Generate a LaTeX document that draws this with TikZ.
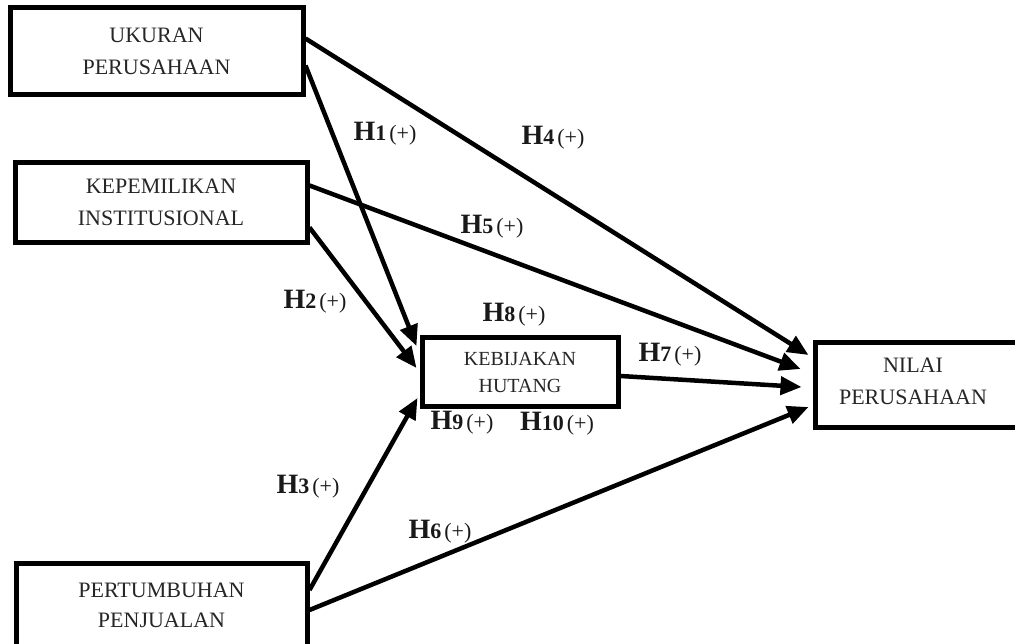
\documentclass[tikz,border=0pt]{standalone}
\usepackage{fontspec}
\setmainfont{Liberation Serif}
\usetikzlibrary{arrows.meta,calc}
\tikzset{
  box/.style={draw=black, line width=5pt, rectangle, inner sep=0pt, align=center,
    font=\fontsize{22}{32}\selectfont, text=black!85},
  link/.style={line width=4.5pt, -{Triangle[length=21pt,width=18pt]}},
  hyp/.style={inner sep=0pt, text=black!90},
}
\newcommand{\hlab}[1]{{\fontsize{28}{30}\selectfont\bfseries H}{\fontsize{22}{24}\selectfont\bfseries #1}\hspace{3pt}{\fontsize{22}{24}\selectfont(+)}}
\begin{document}
\begin{tikzpicture}[x=1pt,y=-1pt]
\useasboundingbox (0,0) rectangle (1015,644);
\clip (0,0) rectangle (1015,644);
\fill[white] (0,0) rectangle (1015,644);
% boxes
\node[box, minimum width=293pt, minimum height=87pt] (uk) at (156.5,51.5) {UKURAN\\PERUSAHAAN};
\node[box, minimum width=292pt, minimum height=80pt] (kp) at (161,202.5) {KEPEMILIKAN\\INSTITUSIONAL};
\node[box, minimum width=291pt, minimum height=90pt] (pt) at (161.5,608) {};
\node[text=black!85, font=\fontsize{22}{30}\selectfont, align=center] (ptt) at (161.5,605) {PERTUMBUHAN\\PENJUALAN};
\node[box, minimum width=196pt, minimum height=69pt, font=\fontsize{20}{27}\selectfont] (kb) at (520,372) {KEBIJAKAN\\HUTANG};
\node[box, minimum width=210pt, minimum height=84pt] (nv) at (920,385) {};
\node[text=black!85, font=\fontsize{22}{32}\selectfont, align=center] (nvt) at (913,381) {NILAI\\PERUSAHAAN};
% connectors
\draw[link] ($(uk.east)+(0,-13)$) -- ($(nv.west)+(-4,-30)$);
\draw[link] ($(kp.east)+(0,-17)$) -- ($(nv.west)+(-12,-16)$);
\draw[link] ($(kb.east)+(0,4)$) -- ($(nv.west)+(-11,2)$);
\draw[link] ($(pt.east)+(0,2)$) -- ($(nv.west)+(-4,22)$);
\draw[link] ($(uk.east)+(0,14)$) -- ($(kb.west)+(-3,-26)$);
\draw[link] ($(kp.east)+(0,25)$) -- ($(kb.west)+(-3,-4)$);
\draw[link] ($(pt.east)+(0,-18)$) -- ($(kb.west)+(-2,26)$);
% labels
\node[hyp] (h1) at (385,134) {\hlab{1}};
\node[hyp] (h4) at (553,138) {\hlab{4}};
\node[hyp] (h5) at (492,227) {\hlab{5}};
\node[hyp] (h2) at (315,302) {\hlab{2}};
\node[hyp] (h8) at (514,315) {\hlab{8}};
\node[hyp] (h7) at (670,355) {\hlab{7}};
\node[hyp] (h9) at (462,423) {\hlab{9}};
\node[hyp] (h10) at (557,424) {\hlab{10}};
\node[hyp] (h3) at (308,487) {\hlab{3}};
\node[hyp] (h6) at (440,532) {\hlab{6}};
\end{tikzpicture}
\end{document}
